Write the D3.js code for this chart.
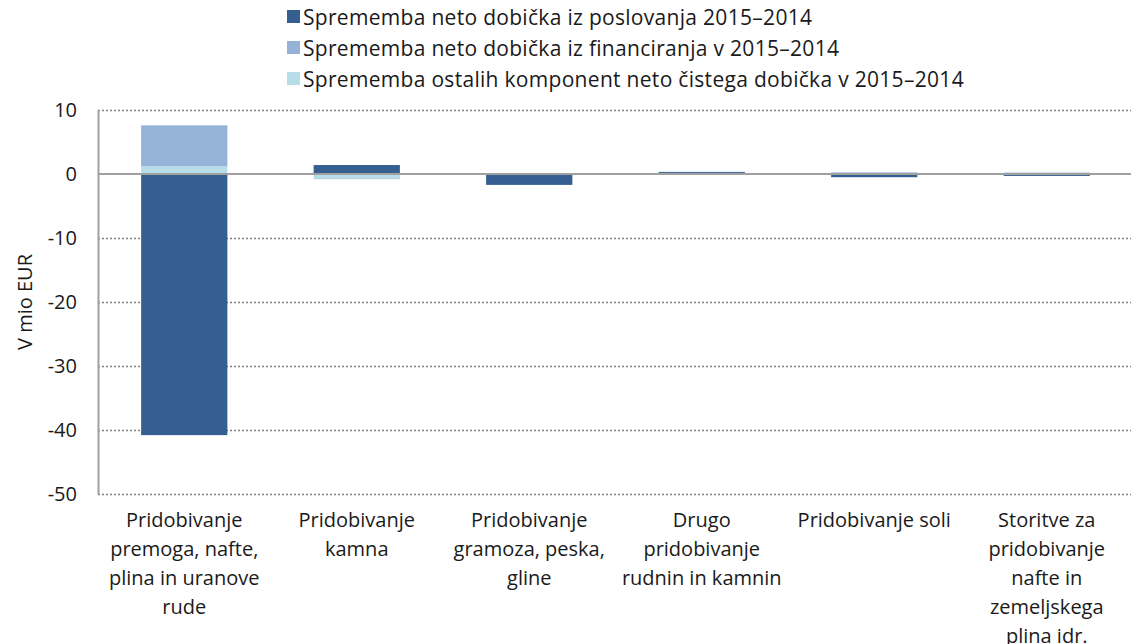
<!DOCTYPE html>
<html lang='sl'>
<head>
<meta charset='utf-8'>
<title>Sprememba neto dobička</title>
<script src='https://d3js.org/d3.v7.min.js'></script>
<style>
  body { margin: 0; background: #fff; }
  text { font-family: 'Open Sans', 'DejaVu Sans', sans-serif; fill: #1a1a1a; }
</style>
</head>
<body>
<script>
'use strict'

// data (mio EUR)
const categories = [
  ['Pridobivanje', 'premoga, nafte,', 'plina in uranove', 'rude'],
  ['Pridobivanje', 'kamna'],
  ['Pridobivanje', 'gramoza, peska,', 'gline'],
  ['Drugo', 'pridobivanje', 'rudnin in kamnin'],
  ['Pridobivanje soli'],
  ['Storitve za', 'pridobivanje', 'nafte in', 'zemeljskega', 'plina idr.']
]
const poslovanje = [-40.8, 1.4, -1.7, 0.3, -0.5, -0.3]
const financiranje = [6.4, -0.1, 0.15, 0.05, 0.25, 0.05]
const ostalo = [1.2, -0.7, 0.0, 0.0, 0.0, 0.2]
const seriesNames = [
  'Sprememba neto dobička iz poslovanja 2015\u20132014',
  'Sprememba neto dobička iz financiranja v 2015\u20132014',
  'Sprememba ostalih komponent neto čistega dobička v 2015\u20132014'
]
const colors = ['#365f91', '#95b3d7', '#b7dee8']
const yTicks = [10, 0, -10, -20, -30, -40, -50]

const width = 1131, height = 644
const margin = {top: 110, right: -2, bottom: 150, left: 98}

const svg = d3.select('body').append('svg')
  .attr('width', width)
  .attr('height', height)

const x = d3.scaleBand()
  .domain(d3.range(categories.length))
  .range([margin.left, width - margin.right])
  .paddingInner(0.5)
  .paddingOuter(0.25)

const y = d3.scaleLinear()
  .domain([-50, 10])
  .range([height - margin.bottom, margin.top])

// gridlines
svg.append('g')
  .selectAll('line')
  .data(yTicks.filter(d => d !== 0))
  .join('line')
  .attr('x1', margin.left)
  .attr('x2', width - margin.right)
  .attr('y1', d => y(d) + 0.5)
  .attr('y2', d => y(d) + 0.5)
  .attr('stroke', '#7f7f7f')
  .attr('stroke-width', 1.3)
  .attr('stroke-dasharray', '2,2')

// stacked bars (ostalo sits next to zero, financiranje above)
const rows = categories.map((c, i) => ({i: i, p: poslovanje[i], f: financiranje[i], o: ostalo[i]}))
const stack = d3.stack()
  .keys(['p', 'o', 'f'])
  .offset(d3.stackOffsetDiverging)
const keyColor = {p: colors[0], f: colors[1], o: colors[2]}

svg.append('g')
  .selectAll('g')
  .data(stack(rows))
  .join('g')
  .attr('fill', d => keyColor[d.key])
  .selectAll('rect')
  .data(d => d)
  .join('rect')
  .attr('x', d => x(d.data.i))
  .attr('width', x.bandwidth())
  .attr('y', d => y(Math.max(d[0], d[1])))
  .attr('height', d => Math.abs(y(d[0]) - y(d[1])))

// zero line
svg.append('line')
  .attr('x1', margin.left)
  .attr('x2', width - margin.right)
  .attr('y1', y(0))
  .attr('y2', y(0))
  .attr('stroke', '#a0a0a0')
  .attr('stroke-width', 2)

// y axis
const yAxis = svg.append('g')
  .attr('transform', `translate(${margin.left},0)`)
  .call(d3.axisLeft(y).tickValues(yTicks).tickFormat(d => String(d)).tickSize(0).tickPadding(21))
yAxis.select('.domain').attr('stroke', '#a0a0a0').attr('stroke-width', 2)
yAxis.selectAll('text')
  .style('font-size', '20px')
  .attr('fill', '#1a1a1a')

svg.append('text')
  .attr('transform', `translate(32,${(y(10) + y(-50)) / 2}) rotate(-90)`)
  .attr('text-anchor', 'middle')
  .style('font-size', '20px')
  .text('V mio EUR')

// category labels
const labels = svg.append('g')
  .selectAll('text')
  .data(categories)
  .join('text')
  .attr('text-anchor', 'middle')
  .style('font-size', '20px')
  .attr('x', (d, i) => x(i) + x.bandwidth() / 2)
  .attr('y', 527)
labels.selectAll('tspan')
  .data(d => d)
  .join('tspan')
  .attr('x', function () { return this.parentNode.getAttribute('x') })
  .attr('dy', (d, j) => j === 0 ? 0 : 29)
  .text(d => d)

// legend
const legend = svg.append('g')
  .selectAll('g')
  .data(seriesNames)
  .join('g')
  .attr('transform', (d, i) => `translate(287,${18 + i * 31})`)
legend.append('rect')
  .attr('x', 0)
  .attr('y', -8)
  .attr('width', 13)
  .attr('height', 13)
  .attr('fill', (d, i) => colors[i])
legend.append('text')
  .attr('x', 16)
  .attr('y', 7)
  .style('font-size', '21px')
  .style('letter-spacing', '0.3px')
  .text(d => d)
</script>
</body>
</html>
